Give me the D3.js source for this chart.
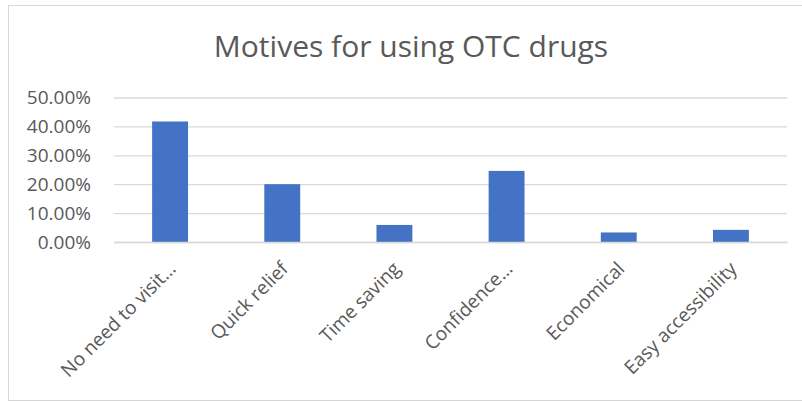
<!DOCTYPE html>
<html>
<head>
<meta charset="utf-8">
<script src="https://cdn.jsdelivr.net/npm/d3@7"></script>
<style>
  html, body { margin: 0; padding: 0; background: #fff; }
  svg { display: block; }
</style>
</head>
<body>
<svg id="chart" width="802" height="402"></svg>
<script>
// Survey responses: share of respondents citing each motive
const categories = [
  "No need to visit\u2026",
  "Quick relief",
  "Time saving",
  "Confidence\u2026",
  "Economical",
  "Easy accessibility"
];
const shares = [0.417, 0.200, 0.059, 0.246, 0.033, 0.042];
const yTicks = [0, 0.1, 0.2, 0.3, 0.4, 0.5];
const chartTitle = "Motives for using OTC drugs";

const svg = d3.select("#chart");
const font = "'Open Sans', 'Noto Sans', sans-serif";
const textGrey = "#595959";
const gridGrey = "#d9d9d9";

// Chart area frame
svg.append("rect")
  .attr("x", 8.5).attr("y", 5.5)
  .attr("width", 800).attr("height", 395)
  .attr("fill", "#fff")
  .attr("stroke", gridGrey)
  .attr("stroke-width", 1);

const plot = { left: 114, right: 787, top: 97.5, bottom: 242 };

const x = d3.scaleBand()
  .domain(categories)
  .range([plot.left, plot.right])
  .paddingInner(0.68)
  .paddingOuter(0.34);

const y = d3.scaleLinear()
  .domain([0, 0.5])
  .range([plot.bottom, plot.top]);

// Title
svg.append("text")
  .attr("x", 411)
  .attr("y", 57)
  .attr("text-anchor", "middle")
  .attr("font-family", font)
  .attr("font-size", 30)
  .attr("fill", textGrey)
  .text(chartTitle);

// Horizontal gridlines + percentage labels
const yAxis = d3.axisLeft(y)
  .tickValues(yTicks)
  .tickFormat(d3.format(".2%"))
  .tickSize(-(plot.right - plot.left))
  .tickPadding(23);

const gy = svg.append("g")
  .attr("transform", `translate(${plot.left},0)`)
  .call(yAxis);
gy.select(".domain").remove();
gy.selectAll(".tick line")
  .attr("stroke", gridGrey)
  .attr("stroke-width", 1.3);
gy.selectAll(".tick text")
  .attr("font-family", font)
  .attr("font-size", 19)
  .attr("fill", textGrey);

// Bars
svg.append("g")
  .selectAll("rect")
  .data(categories.map((c, i) => ({ c, v: shares[i] })))
  .join("rect")
  .attr("x", d => x(d.c))
  .attr("y", d => y(d.v))
  .attr("width", x.bandwidth())
  .attr("height", d => y(0) - y(d.v))
  .attr("fill", "#4472c4");

// Category axis
const xAxis = d3.axisBottom(x).tickSize(0).tickPadding(0);
const gx = svg.append("g")
  .attr("transform", `translate(0,${plot.bottom})`)
  .call(xAxis);
gx.select(".domain")
  .attr("stroke", gridGrey)
  .attr("stroke-width", 1.6);
gx.selectAll(".tick text")
  .attr("font-family", font)
  .attr("font-size", 19)
  .attr("fill", textGrey)
  .attr("text-anchor", "end")
  .attr("dy", 0)
  .attr("transform", "translate(7,28) rotate(-45)");
</script>
</body>
</html>
